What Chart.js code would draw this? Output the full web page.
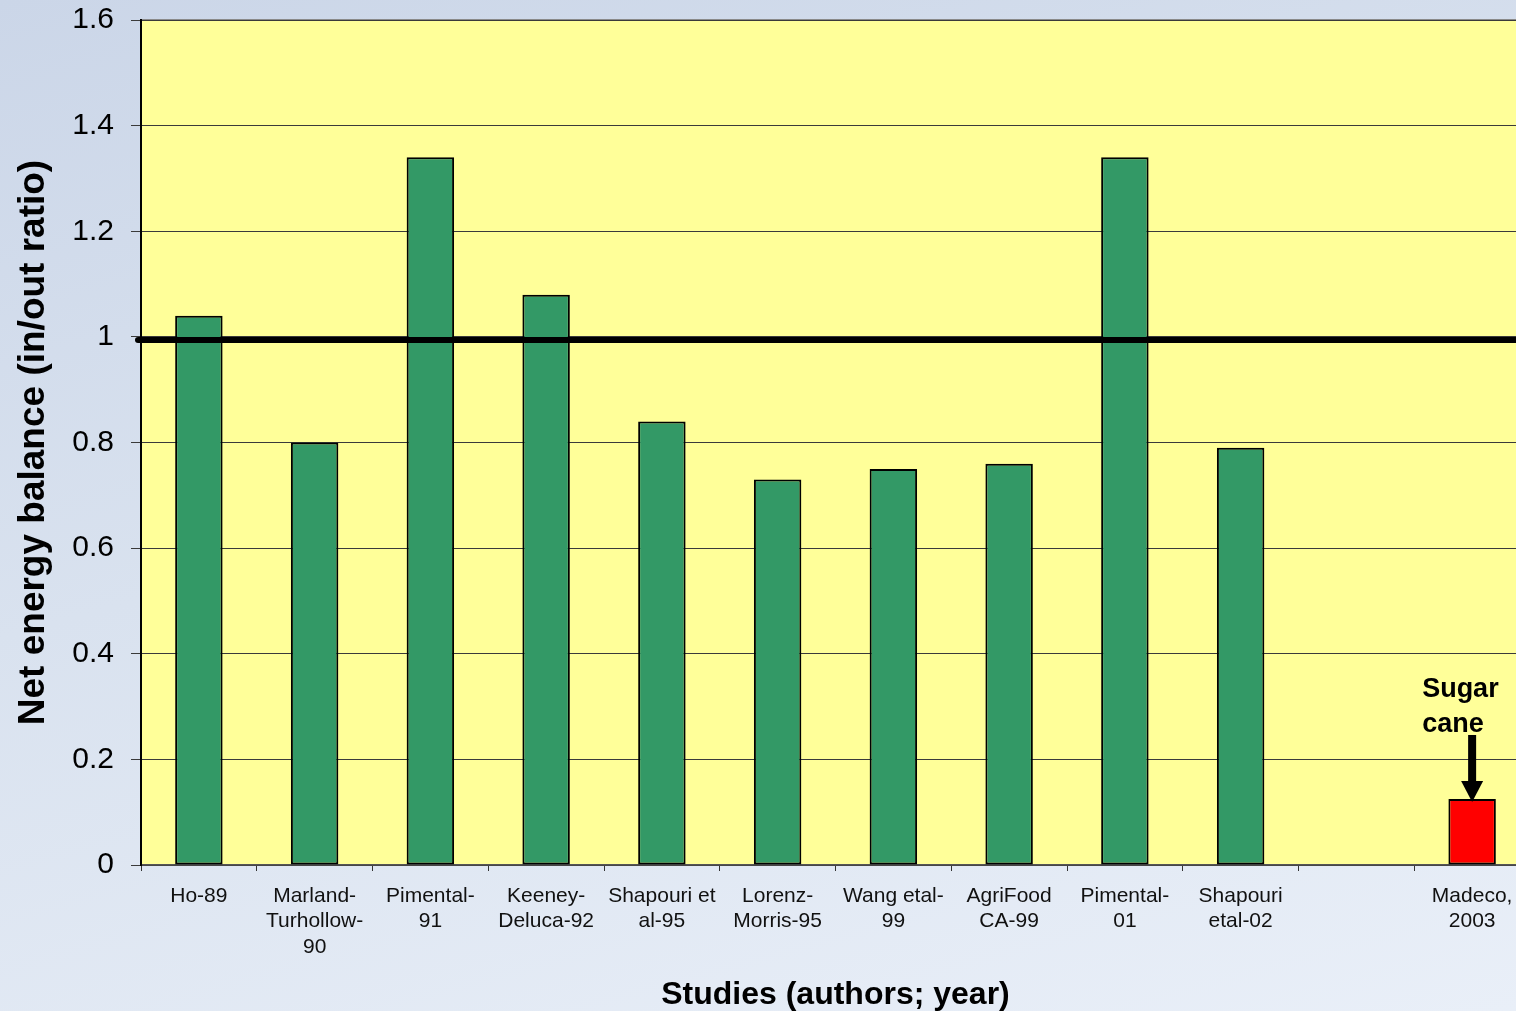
<!DOCTYPE html>
<html>
<head>
<meta charset="utf-8">
<script src="https://cdn.jsdelivr.net/npm/chart.js@4.4.1/dist/chart.umd.min.js"></script>
<style>
html, body {
    margin: 0;
    padding: 0;
    width: 1516px;
    height: 1011px;
    overflow: hidden;
    background: linear-gradient(165deg, #cbd6e8 0%, #d9e2ef 45%, #e9eff8 100%);
}
#wrap { position: absolute; left: 0; top: 0; }
</style>
</head>
<body>
<div id="wrap"><canvas id="myChart" width="1530" height="1011"></canvas></div>
<script>
//static data
let studies = [
    ["Ho-89"],
    ["Marland-", "Turhollow-", "90"],
    ["Pimental-", "91"],
    ["Keeney-", "Deluca-92"],
    ["Shapouri et", "al-95"],
    ["Lorenz-", "Morris-95"],
    ["Wang etal-", "99"],
    ["AgriFood", "CA-99"],
    ["Pimental-", "01"],
    ["Shapouri", "etal-02"],
    "",
    ["Madeco,", "2003"]
];
let balance = [1.04, 0.80, 1.34, 1.08, 0.84, 0.73, 0.75, 0.76, 1.34, 0.79, null, 0.125];
let barColors = ["#339966", "#339966", "#339966", "#339966", "#339966", "#339966",
                 "#339966", "#339966", "#339966", "#339966", "#339966", "#FF0000"];
let breakEven = 1;
let sugarIndex = 11;
let sugarLabel = ["Sugar", "cane"];

const FONT = '"Liberation Sans", Arial, sans-serif';

//yellow plot area with grey top edge
const plotBackground = {
    id: 'plotBackground',
    beforeDraw(chart) {
        const {ctx, chartArea: a} = chart;
        ctx.save();
        ctx.fillStyle = '#FFFF99';
        ctx.fillRect(a.left, a.top, a.right - a.left, a.bottom - a.top);
        ctx.strokeStyle = '#8a8a8a';
        ctx.lineWidth = 2;
        ctx.beginPath();
        ctx.moveTo(a.left, a.top);
        ctx.lineTo(a.right, a.top);
        ctx.stroke();
        ctx.restore();
    }
};

//thick break-even line plus the sugar cane arrow
const annotations = {
    id: 'annotations',
    afterDatasetsDraw(chart) {
        const {ctx, chartArea: a, scales: {x, y}} = chart;
        ctx.save();
        let yLine = y.getPixelForValue(breakEven) + 3;
        ctx.strokeStyle = '#000';
        ctx.lineWidth = 6;
        ctx.lineCap = 'round';
        ctx.beginPath();
        ctx.moveTo(a.left - 3, yLine);
        ctx.lineTo(a.right + 5, yLine);
        ctx.stroke();

        let xs = x.getPixelForValue(sugarIndex);
        let tip = y.getPixelForValue(balance[sugarIndex]) + 3;
        ctx.fillStyle = '#000';
        ctx.fillRect(xs - 4, tip - 67, 8, 50);
        ctx.beginPath();
        ctx.moveTo(xs - 11, tip - 21);
        ctx.lineTo(xs + 11, tip - 21);
        ctx.lineTo(xs, tip);
        ctx.closePath();
        ctx.fill();

        ctx.font = 'bold 27px ' + FONT;
        ctx.textAlign = 'left';
        ctx.textBaseline = 'middle';
        ctx.fillText(sugarLabel[0], xs - 50, tip - 112);
        ctx.fillText(sugarLabel[1], xs - 50, tip - 77);
        ctx.restore();
    }
};

const ctx = document.getElementById('myChart').getContext('2d');
const myChart = new Chart(ctx, {
    type: 'bar',
    data: {
        labels: studies,
        datasets: [{
            data: balance,
            backgroundColor: barColors,
            borderColor: '#000',
            borderWidth: 2,
            borderSkipped: false,
            barPercentage: 0.41,
            categoryPercentage: 1.0
        }]
    },
    options: {
        responsive: false,
        animation: false,
        layout: { padding: { top: 20, left: 0, right: 0, bottom: 0 } },
        plugins: {
            legend: { display: false },
            tooltip: { enabled: false }
        },
        scales: {
            x: {
                offset: true,
                grid: {
                    offset: true,
                    drawOnChartArea: false,
                    drawTicks: true,
                    tickLength: 6,
                    color: '#333'
                },
                border: { color: '#555', width: 1.5 },
                ticks: {
                    color: '#111',
                    padding: 12,
                    maxRotation: 0,
                    autoSkip: false,
                    font: { family: FONT, size: 21, lineHeight: 1.22 }
                },
                title: {
                    display: true,
                    text: 'Studies (authors; year)',
                    color: '#000',
                    padding: { top: 0, bottom: -3 },
                    font: { family: FONT, size: 32, weight: 'bold' }
                },
                afterFit(scale) {
                    scale.height = 146;
                    scale.paddingLeft = 0;
                    scale.paddingRight = 0;
                }
            },
            y: {
                min: 0,
                max: 1.6,
                ticks: {
                    stepSize: 0.2,
                    color: '#000',
                    padding: 17,
                    font: { family: FONT, size: 30 },
                    callback: v => String(Math.round(v * 10) / 10)
                },
                grid: {
                    color: '#3a3a3a',
                    lineWidth: 1,
                    tickLength: 10
                },
                border: { color: '#000', width: 2 },
                title: {
                    display: true,
                    text: 'Net energy balance (in/out ratio)',
                    color: '#000',
                    padding: { top: 12, bottom: 0 },
                    font: { family: FONT, size: 37, weight: 'bold' }
                },
                afterFit(scale) {
                    scale.width = 141;
                    scale.paddingTop = 0;
                    scale.paddingBottom = 0;
                }
            }
        }
    },
    plugins: [plotBackground, annotations]
});
</script>
</body>
</html>
